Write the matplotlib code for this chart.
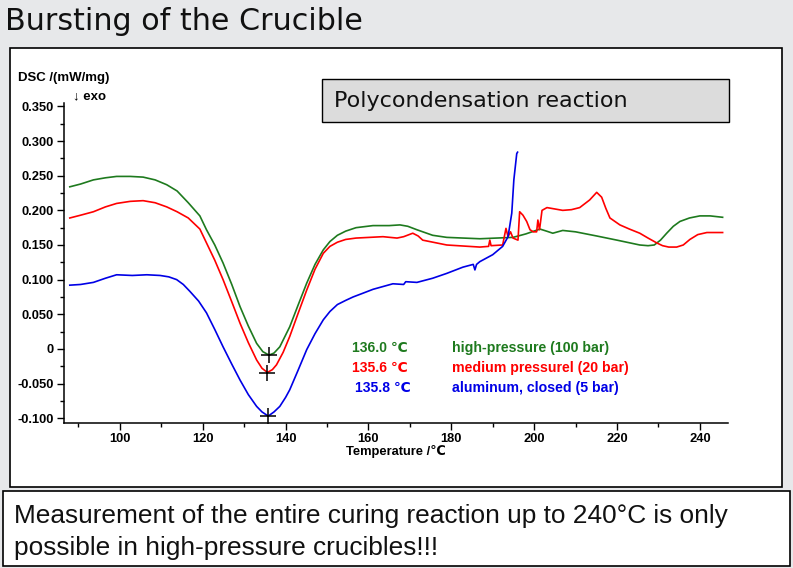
import matplotlib
matplotlib.use('Agg')
import matplotlib.pyplot as plt
from matplotlib.patches import Rectangle
from matplotlib.ticker import MultipleLocator, FuncFormatter

# DSC curves (temperature in degC, DSC in mW/mg)
green_t = [87.9, 90.5, 93.6, 96.5, 99.2, 102.5, 105.6, 108.5, 111.3, 113.8, 116.5,
           119.3, 120.9, 122.9, 124.9, 127.0, 129.0, 131.0, 133.0, 134.5, 136.0,
           137.2, 138.6, 141.0, 143.0, 145.1, 147.1, 149.1, 150.7, 152.5, 154.5,
           157.0, 161.1, 165.0, 167.6, 169.5, 171.7, 175.5, 178.9, 186.9, 194.9,
           198.0, 201.4, 203.0, 204.5, 206.9, 210.0, 215.1, 220.0, 225.5, 227.5,
           229.0, 230.5, 232.0, 233.6, 235.2, 237.5, 240.0, 242.5, 245.5]
green_v = [0.234, 0.238, 0.244, 0.247, 0.249, 0.249, 0.248, 0.244, 0.237, 0.228, 0.211,
           0.192, 0.172, 0.150, 0.124, 0.093, 0.061, 0.033, 0.008, -0.004, -0.009,
           -0.006, 0.003, 0.032, 0.063, 0.095, 0.122, 0.143, 0.155, 0.164, 0.170,
           0.175, 0.178, 0.178, 0.179, 0.177, 0.172, 0.164, 0.161, 0.159, 0.161,
           0.166, 0.173, 0.170, 0.167, 0.171, 0.169, 0.163, 0.157, 0.150, 0.149,
           0.150, 0.157, 0.167, 0.177, 0.184, 0.189, 0.192, 0.192, 0.190]

red_t = [87.9, 90.5, 93.6, 96.5, 99.2, 102.5, 105.6, 108.5, 111.3, 113.8, 116.5,
         119.3, 120.9, 122.9, 124.9, 127.0, 129.0, 131.0, 133.0, 134.3, 135.6,
         136.8, 137.8, 139.4, 141.0, 143.0, 145.1, 147.1, 149.1, 150.7, 152.5,
         154.5, 157.0, 163.5, 166.9, 168.5, 170.7, 172.0, 173.1, 178.9, 186.9,
         189.0, 189.3, 189.6, 192.4, 193.2, 193.7, 194.3, 194.9, 196.1, 196.5,
         197.3, 198.2, 199.0, 199.8, 200.6, 200.9, 201.3, 201.9, 203.1, 205.0,
         206.9, 209.0, 211.0, 213.4, 215.1, 216.3, 217.3, 218.3, 220.7, 223.0,
         225.5, 227.5, 229.6, 231.0, 232.5, 234.4, 236.0, 237.6, 239.5, 241.7,
         245.5]
red_v = [0.189, 0.193, 0.198, 0.205, 0.210, 0.213, 0.214, 0.211, 0.205, 0.198, 0.189,
         0.173, 0.153, 0.128, 0.100, 0.068, 0.037, 0.009, -0.016, -0.028, -0.034,
         -0.030, -0.023, -0.005, 0.018, 0.051, 0.085, 0.115, 0.138, 0.148, 0.154,
         0.158, 0.160, 0.162, 0.160, 0.162, 0.167, 0.163, 0.157, 0.150, 0.147,
         0.148, 0.157, 0.149, 0.150, 0.174, 0.162, 0.169, 0.160, 0.157, 0.198,
         0.193, 0.184, 0.172, 0.169, 0.169, 0.186, 0.172, 0.200, 0.204, 0.202,
         0.200, 0.201, 0.204, 0.215, 0.226, 0.219, 0.203, 0.189, 0.179, 0.173,
         0.167, 0.160, 0.153, 0.149, 0.147, 0.147, 0.150, 0.158, 0.165, 0.168,
         0.168]

blue_t = [87.9, 90.5, 93.6, 96.5, 99.2, 103.0, 106.5, 109.7, 111.8, 113.7, 115.3,
          116.9, 119.0, 120.9, 122.9, 124.9, 127.0, 129.0, 131.0, 133.0, 134.3,
          135.8, 137.2, 138.6, 140.0, 141.0, 143.0, 145.1, 147.1, 149.1, 150.7,
          152.5, 154.5, 156.3, 158.5, 161.1, 165.9, 168.5, 169.0, 171.7, 175.5,
          178.9, 182.8, 185.3, 185.7, 186.1, 186.9, 190.0, 192.4, 193.7, 194.6,
          195.1, 195.8, 196.0]
blue_v = [0.092, 0.093, 0.096, 0.102, 0.107, 0.106, 0.107, 0.106, 0.104, 0.100, 0.093,
          0.083, 0.069, 0.052, 0.028, 0.003, -0.022, -0.045, -0.066, -0.083, -0.091,
          -0.097, -0.091, -0.083, -0.070, -0.059, -0.031, -0.001, 0.022, 0.042, 0.054,
          0.064, 0.070, 0.075, 0.080, 0.086, 0.094, 0.093, 0.097, 0.096, 0.102,
          0.109, 0.118, 0.122, 0.114, 0.122, 0.126, 0.136, 0.148, 0.162, 0.196,
          0.244, 0.282, 0.284]

peak_t = [136.0, 135.6, 135.8]
peak_v = [-0.009, -0.035, -0.097]
peak_labels = ['136.0 \u2103', '135.6 \u2103', '135.8 \u2103']
legend_labels = ['high-pressure (100 bar)', 'medium pressurel (20 bar)',
                 'aluminum, closed (5 bar)']

c_green = '#1e7a1e'
c_red = '#ff0000'
c_blue = '#0000e6'
fam = ['Liberation Sans', 'DejaVu Sans']

fig = plt.figure(figsize=(7.93, 5.68), dpi=100)
fig.patch.set_facecolor('#e7e8ea')
W, H = 793.0, 568.0

def px(x0, y0, x1, y1):
    # pixel box -> figure coords
    return (x0 / W, 1 - y1 / H, (x1 - x0) / W, (y1 - y0) / H)

# slide boxes
bx = px(10, 48, 782, 487)
fig.patches.append(Rectangle(bx[:2], bx[2], bx[3], transform=fig.transFigure,
                             facecolor='white', edgecolor='black', lw=1.2, zorder=-2))
bx = px(3, 491, 790, 566)
fig.patches.append(Rectangle(bx[:2], bx[2], bx[3], transform=fig.transFigure,
                             facecolor='white', edgecolor='black', lw=1.2, zorder=-2))

fig.text(5 / W, 1 - 21 / H, 'Bursting of the Crucible', fontsize=21.7,
         family='DejaVu Sans', va='center', ha='left', color='#111111')
fig.text(14 / W, 1 - 516 / H, 'Measurement of the entire curing reaction up to 240\u00b0C is only',
         fontsize=18.9, family=fam, va='center', ha='left', color='#111111')
fig.text(14 / W, 1 - 548 / H, 'possible in high-pressure crucibles!!!',
         fontsize=18.9, family=fam, va='center', ha='left', color='#111111')

ax = fig.add_axes(px(64, 103, 728, 423))
ax.patch.set_alpha(0)
ax.plot(green_t, green_v, color=c_green, lw=1.2)
ax.plot(red_t, red_v, color=c_red, lw=1.2)
ax.plot(blue_t, blue_v, color=c_blue, lw=1.2)
ax.plot(peak_t, peak_v, '+', color='black', ms=11, mew=1.1, zorder=5)

ax.set_xlim(86.5, 246.8)
ax.set_ylim(-0.107, 0.355)
ax.xaxis.set_major_locator(MultipleLocator(20))
ax.xaxis.set_minor_locator(MultipleLocator(10))
ax.yaxis.set_major_locator(MultipleLocator(0.05))
ax.yaxis.set_minor_locator(MultipleLocator(0.025))
ax.yaxis.set_major_formatter(FuncFormatter(lambda v, p: '0' if abs(v) < 1e-9 else '%.3f' % v))
ax.xaxis.set_major_formatter(FuncFormatter(lambda v, p: '%d' % v))
ax.tick_params(which='major', direction='out', length=5, width=1, labelsize=9.3, pad=2.5)
ax.tick_params(which='minor', direction='out', length=3, width=1)
for lab in ax.get_xticklabels() + ax.get_yticklabels():
    lab.set_fontweight('bold')
    lab.set_family(fam)
for s in ['top', 'right']:
    ax.spines[s].set_visible(False)
for s in ['left', 'bottom']:
    ax.spines[s].set_linewidth(1.1)

ax.set_xlabel('Temperature /\u2103', fontsize=9.3, fontweight='bold', family=fam, labelpad=0)
fig.text(18 / W, 1 - 78 / H, 'DSC /(mW/mg)', fontsize=9.5, fontweight='bold', family=fam,
         va='center', ha='left')
fig.text(73 / W, 1 - 96 / H, '\u2193 exo', fontsize=9.5, fontweight='bold', family=fam,
         va='center', ha='left')

# polycondensation box
bx = px(322, 79, 729, 122)
fig.patches.append(Rectangle(bx[:2], bx[2], bx[3], transform=fig.transFigure,
                             facecolor='#dcdcdc', edgecolor='black', lw=1.0, zorder=3))
fig.text(334 / W, 1 - 101 / H, 'Polycondensation reaction', fontsize=16.0,
         family='DejaVu Sans', va='center', ha='left', color='#111111', zorder=4)

cols = [c_green, c_red, c_blue]
for i in range(3):
    y = 1 - (348 + 20 * i) / H
    fig.text((352 if i < 2 else 355) / W, y, peak_labels[i], fontsize=10, fontweight='bold',
             family=fam, color=cols[i], va='center', ha='left')
    fig.text(452 / W, y, legend_labels[i], fontsize=10.2, fontweight='bold',
             family=fam, color=cols[i], va='center', ha='left')

fig.savefig('out.png', dpi=100, facecolor=fig.get_facecolor())
